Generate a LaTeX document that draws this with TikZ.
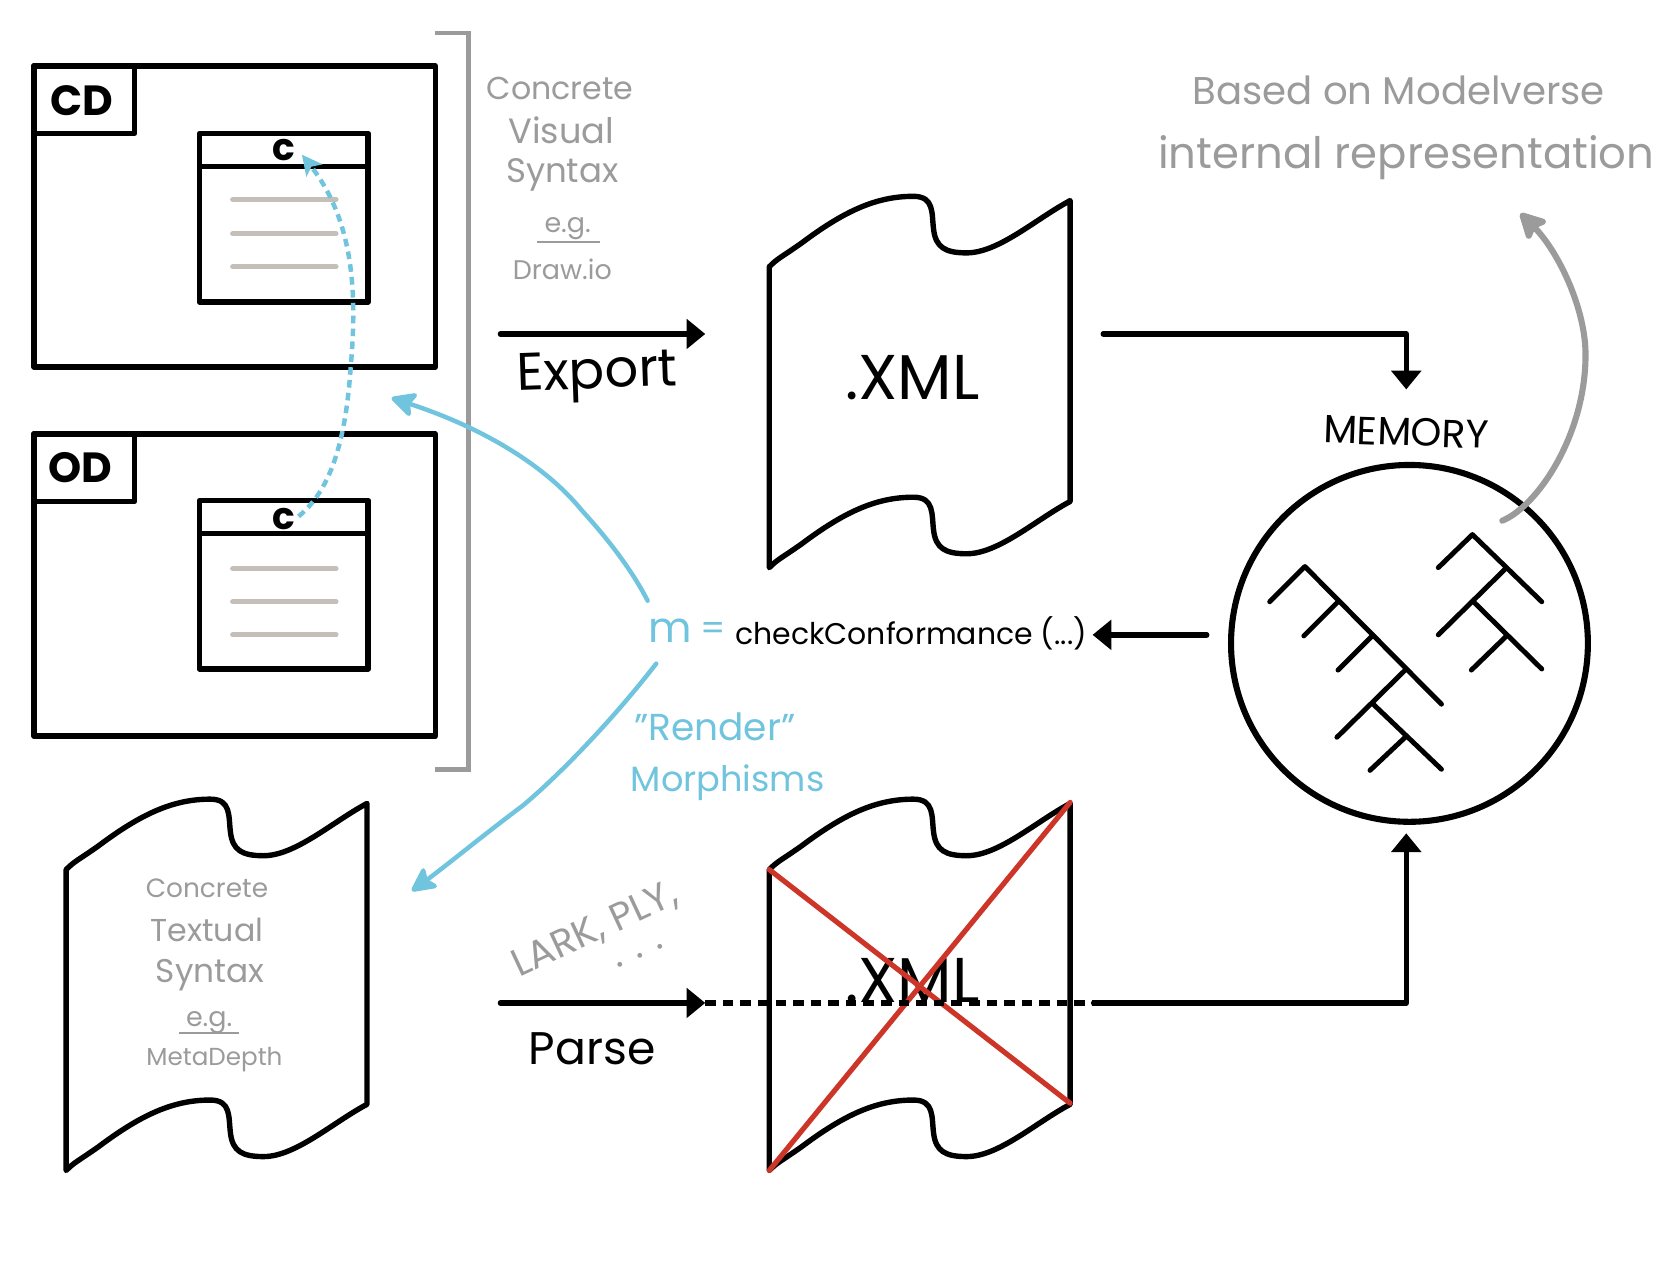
\documentclass[tikz,border=0pt]{standalone}
\usepackage{fontspec}
\setmainfont{Poppins}
\usetikzlibrary{arrows.meta}
\definecolor{inkgray}{HTML}{9B9B9B}
\definecolor{inkblue}{HTML}{70C4DE}
\definecolor{inkred}{HTML}{CC3527}
\definecolor{inkbar}{HTML}{C4C0B9}
\newcommand{\fsz}[1]{\fontsize{#1}{#1}\selectfont}
\tikzset{
  x=0.032cm,y=-0.032cm,
  box/.style={line width=4.8pt,line join=round,black},
  bar/.style={line width=4.2pt,line cap=round,inkbar},
  thick line/.style={line width=4.6pt,line cap=round,line join=round,black},
  branch/.style={line width=4.2pt,line cap=round,line join=round,black},
  blacktip/.style={-{Triangle[length=16pt,width=25pt]}},
  blueline/.style={line width=3.8pt,line cap=round,inkblue,-{Stealth[length=24pt,width=24pt,inset=5pt,round]}},
  grayline/.style={line width=5.2pt,line cap=round,inkgray,-{Stealth[length=26pt,width=27pt,inset=5pt,round]}},
  handblack/.style={inner sep=0pt,black,align=center},
  handgray/.style={inner sep=0pt,inkgray,align=center},
  handblue/.style={inner sep=0pt,inkblue,align=center},
  docshape/.pic={
    \draw[line width=4.6pt,line join=round,black]
      (0,0) .. controls (8,-8) and (10,-8) .. (30,-22)
      .. controls (70,-52) and (100,-66) .. (135,-66)
      .. controls (155,-66) and (152,-50) .. (154,-35)
      .. controls (156,-18) and (165,-13) .. (185,-13)
      .. controls (215,-13) and (250,-45) .. (282,-62)
      -- (282,220)
      .. controls (250,237) and (215,269) .. (185,269)
      .. controls (165,269) and (156,264) .. (154,247)
      .. controls (152,232) and (155,216) .. (135,216)
      .. controls (100,216) and (70,230) .. (30,260)
      .. controls (10,274) and (8,274) .. (0,282)
      -- cycle;
  },
}
\begin{document}
\begin{tikzpicture}
\useasboundingbox (0,0) rectangle (1568,1195);
\fill[white] (0,0) rectangle (1568,1195);

% class diagram frame
\draw[box] (32,62) rectangle (408,344);
\draw[box] (32,62) rectangle (126,125);
\node[handblack,font=\fsz{36}\bfseries] (cdlabel) at (77,94) {CD};
\draw[box] (187,125) rectangle (345,283);
\draw[box] (187,156) -- (345,156);
\node[handblack,font=\fsz{32}\bfseries] (cdclass) at (266,141) {c};
\draw[bar] (218,187) -- (315,187);
\draw[bar] (218,219) -- (315,219);
\draw[bar] (218,250) -- (315,250);

% object diagram frame
\draw[box] (32,407) rectangle (408,690);
\draw[box] (32,407) rectangle (126,470);
\node[handblack,font=\fsz{36}\bfseries] (odlabel) at (75,438) {OD};
\draw[box] (187,469) rectangle (345,627);
\draw[box] (187,500) -- (345,500);
\node[handblack,font=\fsz{32}\bfseries] (odclass) at (266,486) {c};
\draw[bar] (218,533) -- (315,533);
\draw[bar] (218,564) -- (315,564);
\draw[bar] (218,595) -- (315,595);

% bracket
\draw[line width=4pt,inkgray,line join=miter] (408,31) -- (439,31) -- (439,721) -- (408,721);

% concrete visual syntax
\node[handgray,font=\fsz{27}] (cvs1) at (525,83) {Concrete};
\node[handgray,font=\fsz{30}] (cvs2) at (526,122) {Visual};
\node[handgray,font=\fsz{29}] (cvs3) at (527,164) {Syntax};
\node[handgray,font=\fsz{23}] (cvs4) at (532,214) {e.g.};
\draw[line width=2pt,inkgray] (503,227) -- (562,227);
\node[handgray,font=\fsz{23}] (cvs5) at (527,252) {Draw.io};

% top document
\pic at (721,250) {docshape};
\node[handblack,font=\fsz{54}] (xmlA) at (855,354) {.XML};

% export
\coordinate (expS) at (469,313);
\coordinate (expE) at (661,313);
\draw[thick line,blacktip] (expS) -- (expE);
\node[handblack,font=\fsz{45},rotate=2] (export) at (560,353) {Export};

% to memory
\coordinate (memS) at (1034,313);
\coordinate (memK) at (1318,313);
\coordinate (memE) at (1318,365);
\draw[thick line,blacktip] (memS) -- (memK) -- (memE);
\node[handblack,font=\fsz{33.5},rotate=-2] (memory) at (1318,405) {MEMORY};

% memory circle
\node[draw,circle,line width=5.2pt,minimum size=304.5pt,inner sep=0pt] (mem) at (1321,603) {};
% left tree
\draw[branch] (1190,564) -- (1223,531) -- (1351,660);
\draw[branch] (1254,564) -- (1222,596);
\draw[branch] (1286,596) -- (1254,628);
\draw[branch] (1317,628) -- (1253,691);
\draw[branch] (1286,659) -- (1351,721);
\draw[branch] (1317,691) -- (1284,722);
% right tree
\draw[branch] (1348,532) -- (1380,501) -- (1445,564);
\draw[branch] (1410,534) -- (1348,595);
\draw[branch] (1381,564) -- (1445,627);
\draw[branch] (1412,596) -- (1379,628);

% based on
\node[handgray,font=\fsz{33}] (based1) at (1311,85) {Based on Modelverse};
\node[handgray,font=\fsz{37}] (based2) at (1318,148) {internal representation};
\coordinate (grayS) at (1408,488);
\coordinate (grayE) at (1425,200);
\draw[grayline] (grayS) .. controls (1440,475) and (1485,410) .. (1486,335)
  .. controls (1487,290) and (1460,235) .. (grayE);

% check conformance
\node[handblue,font=\fsz{36}] (mvar) at (628,591) {m};
\node[handblue,font=\fsz{30}] (meq) at (668,592) {=};
\node[handblack,font=\fsz{25.5}] (check) at (854,594) {checkConformance (...)};
\coordinate (chkS) at (1131,595);
\coordinate (chkE) at (1024,595);
\draw[thick line,blacktip] (chkS) -- (chkE);

% render
\node[handblue,font=\fsz{32}] (render1) at (670,681) {"Render"};
\node[handblue,font=\fsz{30}] (render2) at (682,734) {Morphisms};

% blue arrows
\coordinate (upS) at (607,563);
\coordinate (upE) at (367,373);
\draw[blueline] (upS) .. controls (590,530) and (565,500) .. (545,478)
  .. controls (510,435) and (450,400) .. (upE);
\coordinate (dnS) at (615,622);
\coordinate (dnE) at (386,835);
\draw[blueline] (dnS) .. controls (570,680) and (520,730) .. (490,755)
  .. controls (450,785) and (420,810) .. (dnE);
\draw[line width=3.8pt,inkblue,dash pattern=on 6.5pt off 4.5pt,-{Stealth[length=17pt,width=17pt,inset=4pt]}]
  (odclass.east) ++(3,-2) .. controls (315,455) and (325,400) .. (329,340)
  .. controls (335,270) and (330,205) .. (283,145);

% concrete textual syntax document
\pic at (62,815) {docshape};
\node[handgray,font=\fsz{22.5}] (cts1) at (194,833) {Concrete};
\node[handgray,font=\fsz{27}] (cts2) at (194,872) {Textual};
\node[handgray,font=\fsz{28}] (cts3) at (197,914) {Syntax};
\node[handgray,font=\fsz{23}] (cts4) at (196,958) {e.g.};
\draw[line width=2pt,inkgray] (168,968) -- (224,968);
\node[handgray,font=\fsz{21}] (cts5) at (201,993) {MetaDepth};

% bottom document
\pic at (721,815) {docshape};
\node[handblack,font=\fsz{54}] (xmlB) at (855,919) {.XML};
\coordinate (xA) at (721,815);
\coordinate (xB) at (1003,1034);
\coordinate (xC) at (721,1097);
\coordinate (xD) at (1003,752);
\draw[line width=4.4pt,inkred,line cap=round] (xA) -- (xB);
\draw[line width=4.4pt,inkred,line cap=round] (xC) -- (xD);

% parse
\coordinate (parS) at (469,940);
\coordinate (parE) at (661,940);
\coordinate (parD) at (1025,940);
\coordinate (parK) at (1318,940);
\coordinate (parT) at (1318,781);
\draw[line width=4.6pt,black,dash pattern=on 9pt off 6pt] (parE) -- (parD);
\draw[thick line,blacktip] (parS) -- (parE);
\draw[thick line,blacktip] (parD) -- (parK) -- (parT);
\node[handblack,font=\fsz{39}] (parse) at (555,983) {Parse};
\node[handgray,font=\fsz{33},rotate=25] (lark) at (558,872) {LARK, PLY,};
\node[handgray,font=\fsz{33},rotate=25] (dots) at (600,896) {. . .};
\end{tikzpicture}
\end{document}
